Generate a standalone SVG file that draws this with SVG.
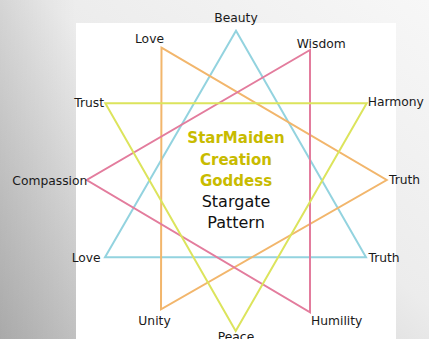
<svg xmlns="http://www.w3.org/2000/svg" width="429" height="339" viewBox="0 0 429 339">
<defs>
<linearGradient id="bg" x1="1" y1="0" x2="0" y2="1">
<stop offset="0" stop-color="#f7f7f7"/>
<stop offset="0.45" stop-color="#ececec"/>
<stop offset="1" stop-color="#b8b8b8"/>
</linearGradient>
<linearGradient id="lf" x1="0" y1="0" x2="1" y2="0">
<stop offset="0" stop-color="#000" stop-opacity="0.08"/>
<stop offset="1" stop-color="#000" stop-opacity="0"/>
</linearGradient>
</defs>
<style>
.tri{fill:none;stroke-width:2;stroke-linejoin:miter}
.blue{stroke:#93d3df}
.orange{stroke:#f2b66c}
.pink{stroke:#e37c9d}
.yellow{stroke:#dce45c}
.lbl{font-family:"DejaVu Sans",sans-serif;font-size:12.3px;fill:#1a1a1a}
.title{font-family:"DejaVu Sans",sans-serif;font-size:15px;font-weight:bold;fill:#c8bb00;text-anchor:middle}
.sub{font-family:"DejaVu Sans",sans-serif;font-size:16px;fill:#111;text-anchor:middle}
</style>
<rect x="0" y="0" width="429" height="339" fill="url(#bg)"/>
<rect x="0" y="0" width="76" height="339" fill="url(#lf)"/>
<rect x="76" y="23" width="320" height="316" fill="#ffffff"/>
<g id="connectors">
<polygon class="tri blue" points="236,30.7 105,257.3 366,257.3"/>
<polygon class="tri orange" points="161.5,47.7 386.7,180 161,309.3"/>
<polygon class="tri pink" points="310,50 86.7,180 310,312.3"/>
<polygon class="tri yellow" points="105.3,103.3 366.7,103.3 235.7,331"/>
</g>
<g id="beauty"><text class="lbl" x="236" y="22.3" text-anchor="middle">Beauty</text></g>
<g id="love-top"><text class="lbl" x="164" y="42.7" text-anchor="end">Love</text></g>
<g id="wisdom"><text class="lbl" x="296.7" y="47.7">Wisdom</text></g>
<g id="trust"><text class="lbl" x="104" y="106.5" text-anchor="end">Trust</text></g>
<g id="harmony"><text class="lbl" x="367.7" y="106">Harmony</text></g>
<g id="compassion"><text class="lbl" x="87.3" y="185" text-anchor="end">Compassion</text></g>
<g id="truth-upper"><text class="lbl" x="389" y="184">Truth</text></g>
<g id="love-lower"><text class="lbl" x="100.7" y="262.3" text-anchor="end">Love</text></g>
<g id="truth-lower"><text class="lbl" x="368.5" y="262">Truth</text></g>
<g id="unity"><text class="lbl" x="154.5" y="325" text-anchor="middle">Unity</text></g>
<g id="humility"><text class="lbl" x="311" y="325">Humility</text></g>
<g id="peace"><text class="lbl" x="236" y="341" text-anchor="middle">Peace</text></g>
<g id="center">
<text class="title" x="236" y="143.3">StarMaiden</text>
<text class="title" x="236" y="164.5">Creation</text>
<text class="title" x="236" y="185.7">Goddess</text>
<text class="sub" x="236" y="206.7">Stargate</text>
<text class="sub" x="236" y="227.7">Pattern</text>
</g>
</svg>
